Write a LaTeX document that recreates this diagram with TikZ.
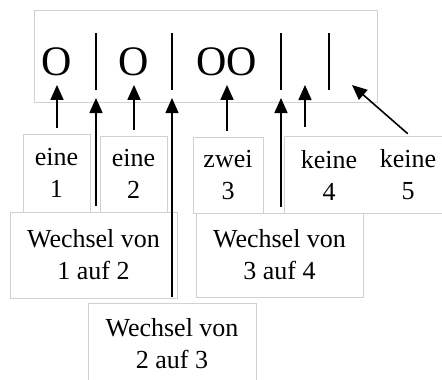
\documentclass[tikz,border=0pt]{standalone}
\usepackage{fontspec}
\setmainfont{Liberation Serif}
\usetikzlibrary{arrows.meta, fit}

\begin{document}
\begin{tikzpicture}[x=1pt, y=-1pt,
  rahmen/.style={draw=black!18, fill=white, line width=0.6pt, inner sep=0pt},
  lbl/.style={rahmen, align=center, font=\fontsize{26}{32}\selectfont},
  txt/.style={align=center, font=\fontsize{26}{32}\selectfont, inner sep=0pt},
  kugel/.style={font=\fontsize{42}{42}\selectfont, inner sep=0pt, text depth=0pt, outer sep=9pt},
  strich/.style={fill=black, minimum width=1.8pt, minimum height=57pt, inner sep=0pt, outer sep=8pt},
  pfeil/.style={-{Triangle[length=15pt, width=13pt]}, line width=1.6pt, shorten <=6pt}]
\useasboundingbox (0,0) rectangle (442,380);
\node (zeile) [rahmen, minimum width=343pt, minimum height=92pt] at (205.5,56) {};
\node (o1) [kugel] at (57,62) {O};
\node (b1) [strich] at (96,61.5) {};
\node (o2) [kugel] at (134,62) {O};
\node (b2) [strich] at (172,61.5) {};
\node (o3) [kugel] at (227,62) {OO};
\node (b3) [strich] at (281,61.5) {};
\node (b4) [strich] at (329,61.5) {};
\coordinate (leer4) at (305,85);
\coordinate (leer5) at (352,85);
\node (e1) [lbl, minimum width=67pt, minimum height=78pt] at (56.5,173) {eine\\1};
\node (e2) [lbl, minimum width=67pt, minimum height=76pt] at (133.5,174) {eine\\2};
\node (z3) [lbl, minimum width=70pt, minimum height=76pt] at (228,175) {zwei\\3};
\node (kbox) [rahmen, minimum width=158pt, minimum height=77pt] at (363,174.5) {};
\node (k4) [txt] at (329,175) {keine\\4};
\node (k5) [txt] at (408,175) {keine\\5};
\node (w12) [lbl, minimum width=167pt, minimum height=86pt] at (93.5,255) {Wechsel von\\1 auf 2};
\node (w34) [lbl, minimum width=167pt, minimum height=84pt] at (279.5,255) {Wechsel von\\3 auf 4};
\node (w23) [lbl, minimum width=168pt, minimum height=82pt] at (172,344) {Wechsel von\\2 auf 3};
\path [pfeil]
     (e1.north -| o1) edge (o1)
     (e2.north -| o2) edge (o2)
     (z3.north -| o3) edge (o3)
     (kbox.north -| leer4) edge[shorten <=9pt] (leer4)
     (w12.north -| b1) edge (b1)
     (w23.north -| b2) edge (b2)
     (w34.north -| b3) edge (b3)
     ([xshift=2pt]k5 |- kbox.north) edge[shorten <=3pt] (leer5);
\end{tikzpicture}
\end{document}
